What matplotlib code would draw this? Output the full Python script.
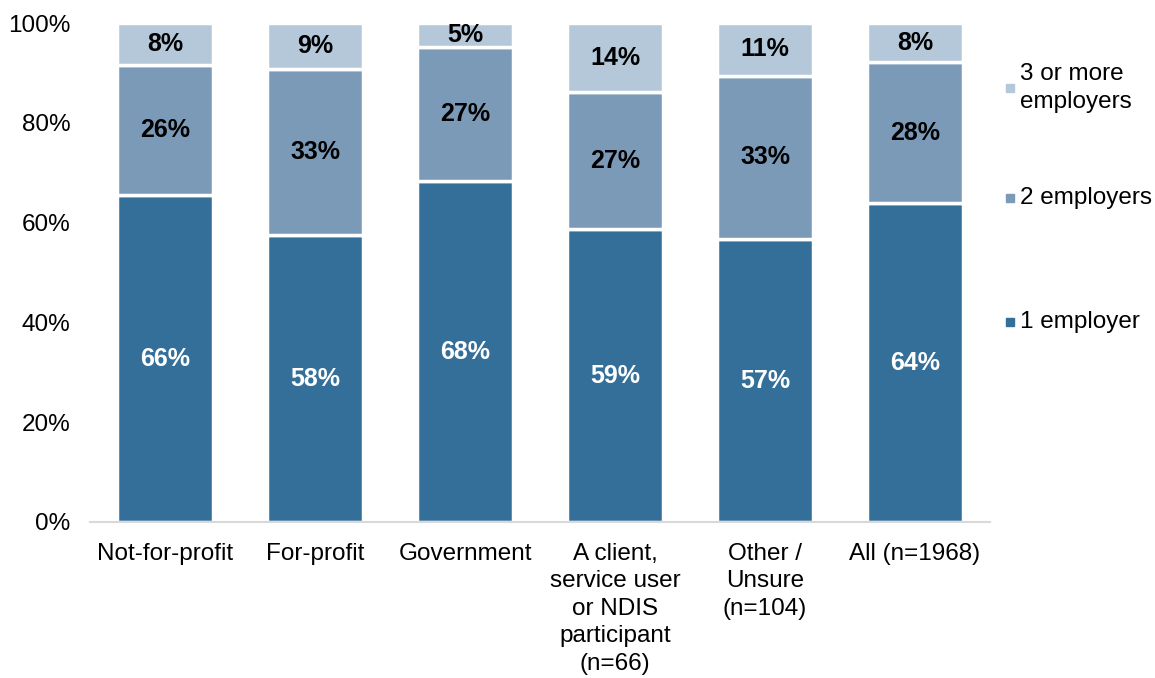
import matplotlib
matplotlib.use('Agg')
import matplotlib.pyplot as plt
import numpy as np

plt.rcParams['font.family'] = ['Liberation Sans', 'DejaVu Sans']

categorias = ['Not-for-profit', 'For-profit', 'Government',
              'A client,\nservice user\nor NDIS\nparticipant\n(n=66)',
              'Other /\nUnsure\n(n=104)', 'All (n=1968)']
um_empregador = [65.5, 57.5, 68.3, 58.7, 56.7, 63.9]
dois_empregadores = [26.1, 33.3, 26.9, 27.4, 32.7, 28.2]
tres_ou_mais = [8.4, 9.2, 4.8, 13.9, 10.6, 7.9]
series_nomes = ['1 employer', '2 employers', '3 or more\nemployers']
cores = ['#346F9A', '#7A9AB8', '#B4C8DA']
cor_texto = ['white', 'black', 'black']

fig = plt.figure(figsize=(11.55, 6.78), dpi=100)
ax = fig.add_axes([90/1155, 1 - 522/678, 900/1155, 499/678])

x = np.arange(len(categorias))
base = np.zeros(len(categorias))
for serie, cor, ct in zip([um_empregador, dois_empregadores, tres_ou_mais], cores, cor_texto):
    serie = np.array(serie)
    ax.bar(x, serie, bottom=base, width=0.64, color=cor, edgecolor='white', linewidth=2.5)
    for xi, b, v in zip(x, base, serie):
        ax.text(xi, b + v / 2, f'{v:.0f}%', ha='center', va='center',
                fontsize=18, fontweight='bold', color=ct)
    base = base + serie

ax.set_xlim(-0.5, 5.5)
ax.set_ylim(0, 100)
ax.set_yticks([0, 20, 40, 60, 80, 100])
ax.set_yticklabels([f'{t}%' for t in [0, 20, 40, 60, 80, 100]], fontsize=17.5)
ax.set_xticks(x)
ax.set_xticklabels(categorias, fontsize=17.5, linespacing=1.32, va='top')
ax.tick_params(axis='both', length=0)
ax.tick_params(axis='x', pad=15)
ax.tick_params(axis='y', pad=14)
for lado in ['top', 'right', 'left']:
    ax.spines[lado].set_visible(False)
ax.spines['bottom'].set_color('#D9D9D9')
ax.spines['bottom'].set_linewidth(1.5)

# legenda manual
leg_y = [322, 198, 88]
for nome, cor, yy in zip(series_nomes, cores, leg_y):
    yf = 1 - yy / 678
    fig.patches.append(plt.Rectangle((1006/1155, yf - 4/678), 8/1155, 8/678,
                                     transform=fig.transFigure, color=cor))
    fig.text(1020/1155, yf, nome, fontsize=17.5, va='center', ha='left', linespacing=1.32)

fig.savefig('out.png', dpi=100)
